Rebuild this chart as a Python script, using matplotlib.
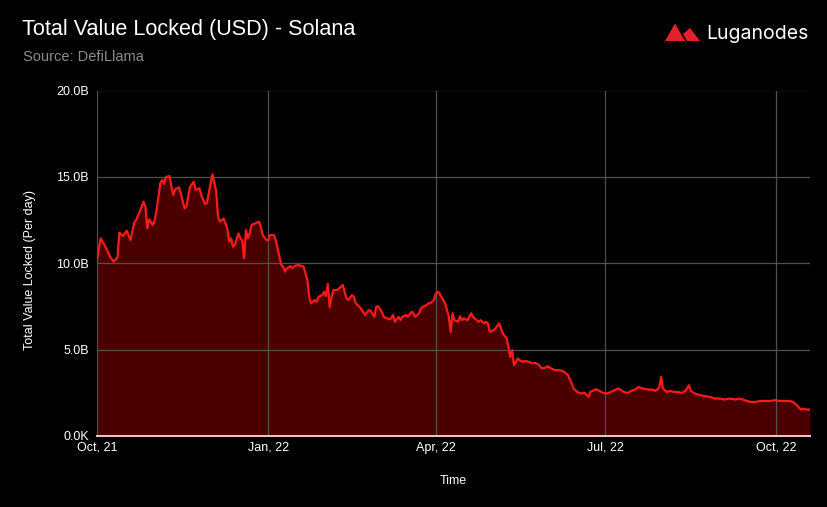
import matplotlib
matplotlib.use("Agg")
import matplotlib.pyplot as plt
import matplotlib.dates as mdates
from matplotlib.patches import Polygon
from matplotlib.ticker import FuncFormatter
import pandas as pd

# Solana TVL, billions USD (day offset from 2021-10-01)
start = "2021-10-01"
day = [0, 2, 3, 5, 7, 9, 11, 12, 14, 16, 18, 20, 21, 23, 25, 26, 27, 28, 30, 31,
       32, 34, 35, 36, 37, 39, 40, 41, 42, 44, 45, 47, 48, 50, 52, 53, 55, 56, 58, 59,
       60, 62, 64, 65, 66, 67, 68, 70, 71, 72, 73, 74, 76, 77, 78, 79, 80, 81, 82, 83,
       85, 87, 88, 89, 91, 92, 93, 95, 96, 97, 99, 100, 101, 102, 104, 105, 106, 108, 110, 111,
       113, 114, 115, 117, 118, 119, 121, 122, 123, 124, 125, 126, 127, 129, 130, 132, 133, 134, 135, 137,
       138, 139, 141, 143, 144, 146, 147, 149, 150, 151, 153, 154, 156, 157, 158, 159, 160, 162, 163, 164,
       166, 167, 169, 170, 171, 173, 174, 175, 177, 178, 179, 181, 182, 183, 184, 185, 187, 188, 189, 190,
       191, 192, 194, 195, 196, 197, 199, 200, 201, 202, 204, 205, 206, 208, 209, 210, 211, 213, 214, 216,
       217, 218, 220, 221, 222, 223, 224, 225, 226, 227, 229, 230, 232, 234, 235, 237, 239, 241, 242, 244,
       246, 248, 250, 251, 253, 255, 256, 258, 260, 262, 264, 265, 268, 270, 272, 274, 276, 278, 280, 283,
       285, 287, 289, 291, 293, 296, 298, 300, 302, 303, 304, 306, 308, 310, 312, 314, 316, 318, 319, 321,
       324, 327, 329, 332, 335, 337, 340, 343, 345, 348, 351, 354, 356, 359, 362, 364, 367, 370, 372, 374,
       376, 378, 379, 381, 383]
tvl = [10.2, 11.44, 11.25, 10.86, 10.38, 10.09, 10.34, 11.77, 11.58, 11.88, 11.34, 12.35, 12.5, 12.99, 13.57, 13.28, 12.02, 12.54, 12.21, 12.5,
       13.08, 14.63, 14.82, 14.59, 14.98, 15.05, 14.43, 13.95, 14.28, 14.4, 14.05, 13.18, 13.28, 14.43, 14.72, 14.24, 14.34, 13.95, 13.43, 13.47,
       14.05, 15.15, 14.2, 12.7, 12.41, 12.5, 12.6, 12.02, 11.25, 11.44, 10.96, 11.06, 11.73, 11.44, 11.34, 10.28, 11.92, 11.44, 11.73, 12.21,
       12.31, 12.41, 12.12, 11.63, 11.34, 11.34, 11.63, 11.63, 11.34, 10.86, 9.9, 9.8, 9.51, 9.7, 9.84, 9.7, 9.84, 9.9, 9.84, 9.8,
       9.03, 8.06, 7.68, 7.87, 7.77, 8.06, 8.16, 8.35, 8.1, 8.8, 7.45, 8.06, 8.45, 8.45, 8.54, 8.74, 8.35, 7.97, 7.87, 8.16,
       8.06, 7.68, 7.48, 7.19, 7.0, 7.29, 7.25, 6.9, 7.48, 7.52, 7.19, 6.9, 6.81, 6.75, 6.81, 7.0, 6.61, 6.9, 6.71, 6.9,
       7.0, 6.9, 7.19, 7.1, 6.9, 7.1, 7.38, 7.48, 7.58, 7.68, 7.68, 7.87, 8.26, 8.35, 8.26, 8.06, 7.68, 7.3, 6.9, 6.03,
       7.1, 6.71, 6.61, 6.94, 6.71, 6.81, 6.71, 6.9, 7.1, 6.9, 6.71, 6.61, 6.71, 6.52, 6.61, 6.52, 6.03, 6.13, 6.23, 6.52,
       6.23, 5.94, 5.65, 5.16, 4.58, 4.97, 4.1, 4.29, 4.49, 4.39, 4.29, 4.35, 4.29, 4.2, 4.23, 4.16, 3.91, 3.96, 4.04, 3.91,
       3.81, 3.81, 3.77, 3.71, 3.52, 3.04, 2.75, 2.55, 2.46, 2.49, 2.26, 2.55, 2.71, 2.61, 2.49, 2.46, 2.55, 2.65, 2.75, 2.55,
       2.49, 2.61, 2.69, 2.84, 2.75, 2.69, 2.69, 2.61, 2.81, 3.42, 2.75, 2.55, 2.61, 2.55, 2.55, 2.49, 2.61, 2.94, 2.61, 2.46,
       2.36, 2.3, 2.26, 2.17, 2.17, 2.11, 2.17, 2.11, 2.17, 2.07, 1.97, 1.97, 2.03, 2.03, 2.03, 2.07, 2.03, 2.03, 2.03, 1.97,
       1.78, 1.53, 1.59, 1.53, 1.53]

tick_dates = ["2021-10-01", "2022-01-01", "2022-04-01", "2022-07-01", "2022-10-01"]
y_ticks = [0, 5, 10, 15, 20]

dates = pd.Timestamp(start) + pd.to_timedelta(day, unit="D")

plt.rcParams["font.family"] = ["Liberation Sans", "DejaVu Sans"]

W, H = 828, 507
fig = plt.figure(figsize=(W / 100, H / 100), dpi=100, facecolor="black")
ax = fig.add_axes([97 / W, 1 - 436 / H, (810 - 97) / W, (436 - 90.5) / H])
ax.set_facecolor("black")

ax.fill_between(dates, tvl, 0, color="#4a0000", lw=0, zorder=1)
ax.plot(dates, tvl, color="#ff1a1a", lw=1.6, zorder=2)

ax.set_xlim(dates[0], dates[-1])
ax.set_ylim(0, 20)
ax.set_xticks(pd.to_datetime(tick_dates))
ax.xaxis.set_major_formatter(mdates.DateFormatter("%b, %y"))
ax.set_yticks(y_ticks)
ax.yaxis.set_major_formatter(FuncFormatter(lambda v, p: "0.0K" if v == 0 else f"{v:.1f}B"))

ax.set_axisbelow("line")
ax.grid(True, color="#5a5a5a", lw=0.9, alpha=0.9)
for s in ["top", "right", "left"]:
    ax.spines[s].set_visible(False)
ax.spines["bottom"].set_color("#e6c4c4")
ax.spines["bottom"].set_linewidth(1.5)
ax.spines["bottom"].set_zorder(3)
ax.tick_params(axis="both", length=0, colors="white", labelsize=9)
ax.tick_params(axis="y", pad=6)
ax.tick_params(axis="x", pad=4)

fig.text(30 / W, 1 - 270 / H, "Total Value Locked (Per day)", rotation=90,
         ha="center", va="center", color="white", fontsize=9)
fig.text(453.5 / W, 1 - 481 / H, "Time", ha="center", va="center", color="white", fontsize=9)

fig.text(22 / W, 1 - 30 / H, "Total Value Locked (USD) - Solana", ha="left", va="center",
         color="white", fontsize=15.6)
fig.text(23 / W, 1 - 57 / H, "Source: DefiLlama", ha="left", va="center",
         color="#8c8c8c", fontsize=10.5)

# Luganodes logo
logo = [(665, 41), (675.5, 22.5), (683, 34), (690, 28), (700, 41)]
fig.add_artist(Polygon([(x / W, 1 - y / H) for x, y in logo], closed=True,
                       transform=fig.transFigure, color="#e3202b", lw=0))
fig.add_artist(plt.Line2D([675.5 / W, 686 / W], [1 - 22.5 / H, 1 - 41 / H],
                          transform=fig.transFigure, color="black", lw=1.2))
fig.text(706 / W, 1 - 34 / H, "Luganodes", ha="left", va="center", color="white",
         fontsize=14, family=["Inter", "DejaVu Sans"])

fig.savefig("out.png", dpi=100, facecolor="black")
